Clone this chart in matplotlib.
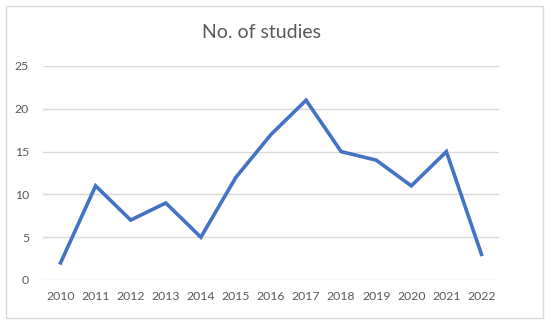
import matplotlib
matplotlib.use("Agg")
import matplotlib.pyplot as plt
from matplotlib.patches import Rectangle

years = ['2010', '2011', '2012', '2013', '2014', '2015', '2016',
         '2017', '2018', '2019', '2020', '2021', '2022']
studies = [2, 11, 7, 9, 5, 12, 17, 21, 15, 14, 11, 15, 3]
yticks = [0, 5, 10, 15, 20, 25]

plt.rcParams['font.family'] = ['Lato', 'DejaVu Sans']

fig = plt.figure(figsize=(5.5, 3.26), dpi=100)
fig.patch.set_facecolor('white')
# outer chart border
fig.patches.append(Rectangle((6/550, 1 - 318/326), 537/550, 312/326,
                             transform=fig.transFigure, fill=False,
                             edgecolor='#D9D9D9', linewidth=1))

ax = fig.add_axes([43/550, 1 - 280/326, 456/550, 214/326])
x = range(len(years))
ax.plot(x, studies, color='#4472C4', linewidth=2.6, solid_joinstyle='miter')
ax.set_xlim(-0.5, len(years) - 0.5)
ax.set_ylim(0, 25)
ax.set_yticks(yticks)
ax.set_xticks(list(x))
ax.set_xticklabels(years)
ax.grid(axis='y', color='#D9D9D9', linewidth=1)
ax.set_axisbelow(True)
for s in ax.spines.values():
    s.set_visible(False)
ax.tick_params(length=0, labelsize=8.8, colors='#595959', pad=8)
ax.tick_params(axis='y', pad=10)

fig.text(261/550, 1 - 33/326, 'No. of studies', ha='center', va='center',
         fontsize=14, color='#595959')

fig.savefig('out.png', dpi=100)
